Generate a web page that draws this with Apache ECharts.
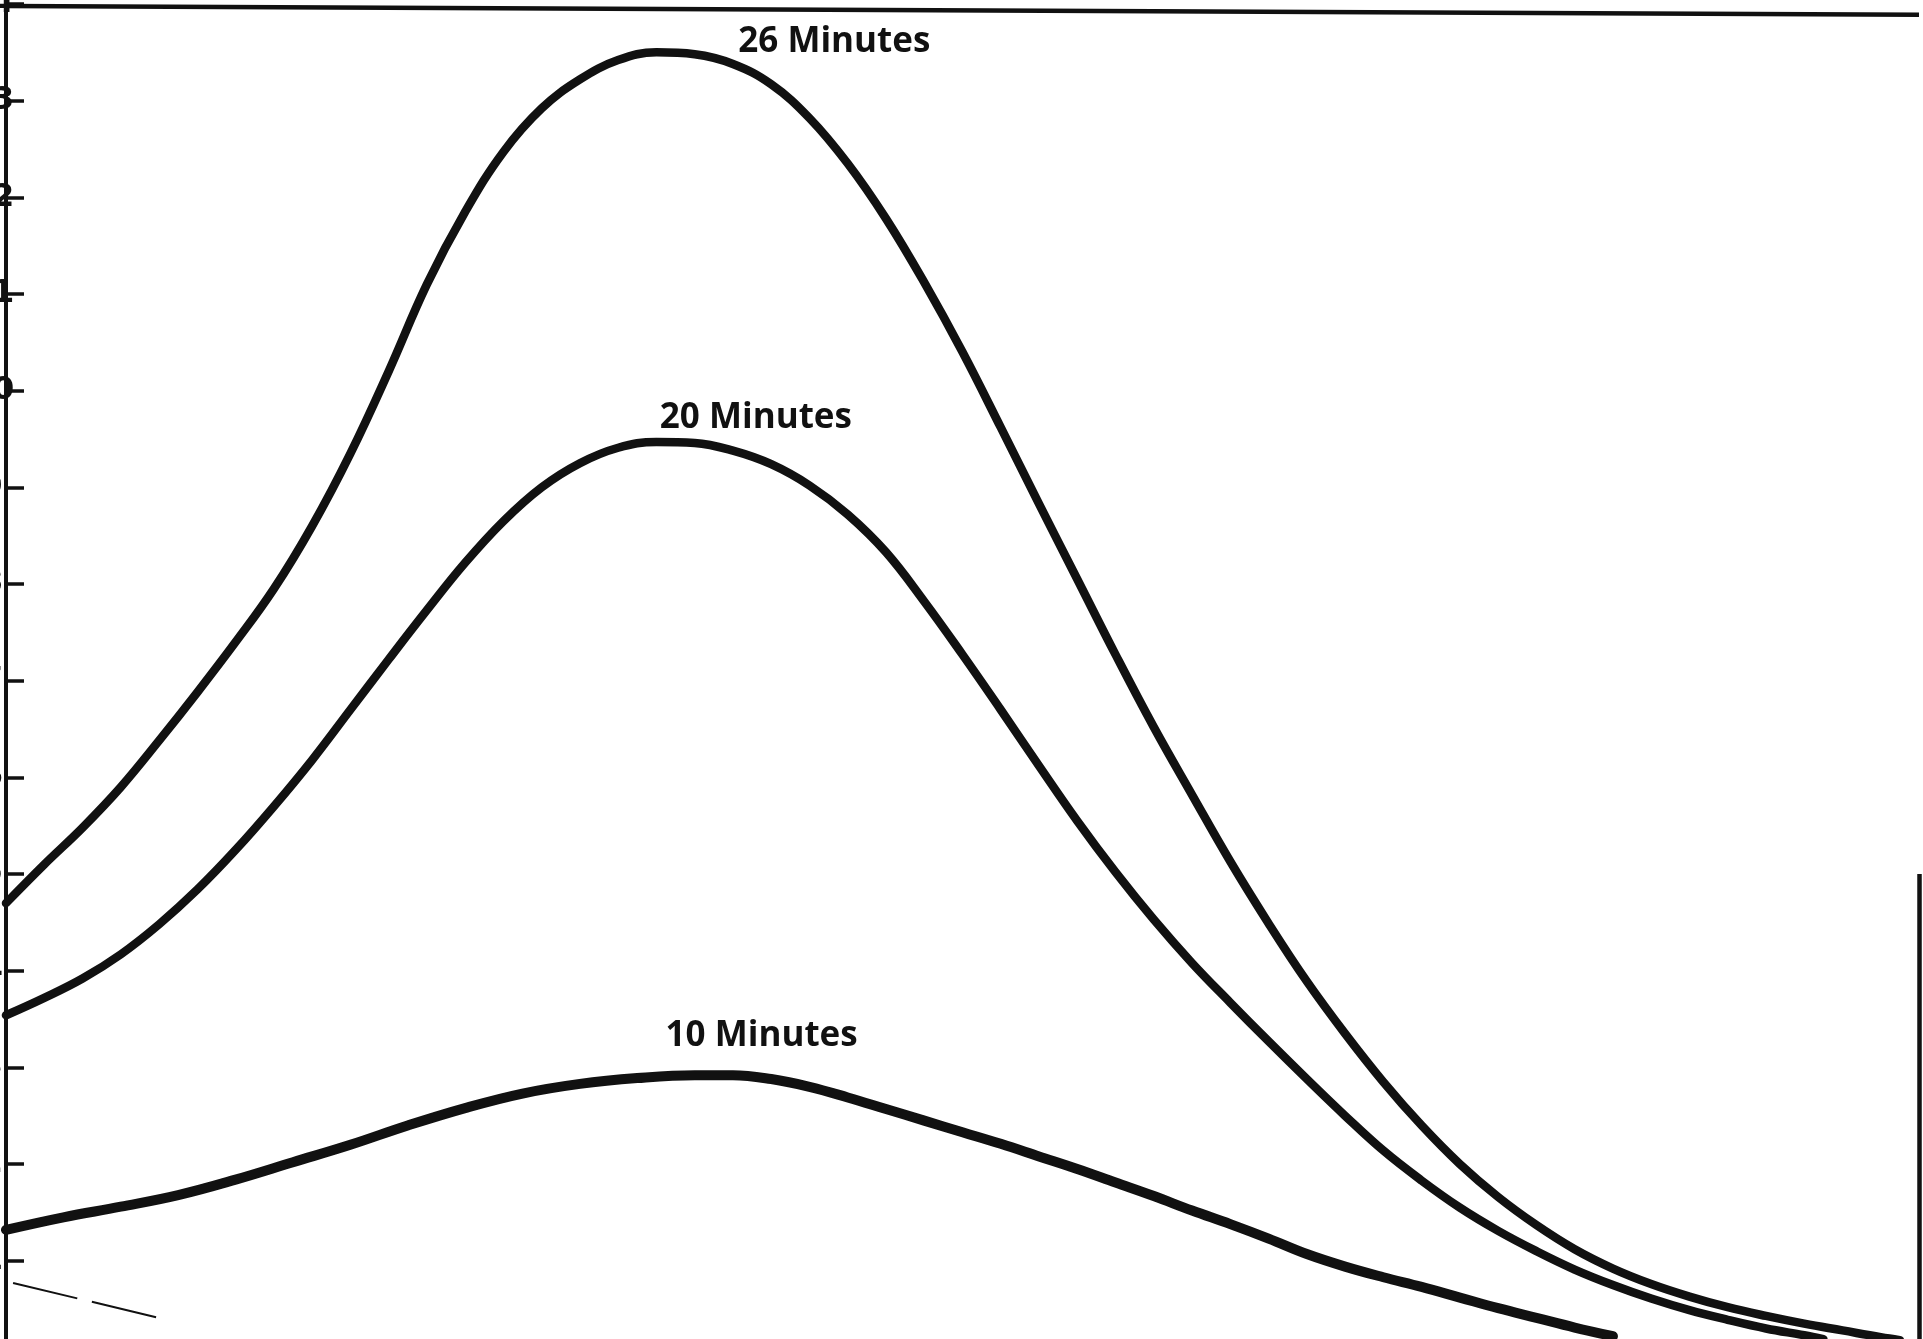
<!DOCTYPE html>
<html>
<head>
<meta charset="utf-8">
<title>Minutes curves</title>
<script src="https://cdn.jsdelivr.net/npm/echarts@6/dist/echarts.min.js"></script>
<style>
  html, body { margin: 0; padding: 0; background: #ffffff; }
  #chart { width: 1923px; height: 1339px; }
</style>
</head>
<body>
<div id="chart"></div>
<script>
// Curve samples: [position along the horizontal scale, value]
const curve26 = [
  [0, 4.70], [2, 5.10], [4, 5.48], [6, 5.90], [8, 6.38], [10, 6.88], [12, 7.40],
  [14, 7.95], [16, 8.60], [18, 9.35], [20, 10.20], [22, 11.10], [24, 11.85],
  [26, 12.47], [28, 12.92], [30, 13.22], [32, 13.42], [34, 13.50], [36, 13.48],
  [38, 13.38], [40, 13.17], [42, 12.82], [44, 12.35], [46, 11.78], [48, 11.12],
  [50, 10.40], [52, 9.62], [54, 8.83], [56, 8.05], [58, 7.27], [60, 6.52],
  [62, 5.82], [64, 5.13], [66, 4.49], [68, 3.89], [70, 3.35], [72, 2.85],
  [74, 2.40], [76, 2.00], [78, 1.66], [80, 1.37], [82, 1.12], [84, 0.92],
  [86, 0.76], [88, 0.63], [90, 0.52], [92, 0.43], [94, 0.35], [96, 0.28],
  [98, 0.21], [99, 0.18]
];
const curve20 = [
  [0, 3.54], [2, 3.72], [4, 3.92], [6, 4.17], [8, 4.48], [10, 4.84], [12, 5.25],
  [14, 5.70], [16, 6.18], [18, 6.70], [20, 7.22], [22, 7.73], [24, 8.22],
  [26, 8.65], [28, 9.00], [30, 9.25], [32, 9.41], [34, 9.47], [36, 9.46],
  [38, 9.38], [40, 9.24], [42, 9.02], [44, 8.72], [46, 8.33], [48, 7.82],
  [50, 7.27], [52, 6.70], [54, 6.12], [56, 5.55], [58, 5.02], [60, 4.53],
  [62, 4.08], [64, 3.67], [66, 3.27], [68, 2.88], [70, 2.50], [72, 2.14],
  [74, 1.83], [76, 1.55], [78, 1.31], [80, 1.10], [82, 0.91], [84, 0.75],
  [86, 0.61], [88, 0.49], [90, 0.39], [92, 0.30], [94, 0.23], [95, 0.19]
];
const curve10 = [
  [0, 1.32], [3, 1.45], [6, 1.56], [9, 1.68], [12, 1.84], [15, 2.02], [18, 2.20],
  [21, 2.40], [24, 2.58], [27, 2.73], [30, 2.83], [33, 2.89], [36, 2.92],
  [38, 2.92], [40, 2.88], [42, 2.80], [44, 2.69], [46, 2.57], [48, 2.45],
  [50, 2.33], [52, 2.21], [54, 2.08], [56, 1.95], [58, 1.81], [60, 1.67],
  [62, 1.52], [64, 1.38], [66, 1.23], [68, 1.07], [70, 0.94], [72, 0.83],
  [74, 0.73], [76, 0.62], [78, 0.51], [80, 0.41], [82, 0.31], [84, 0.22]
];
// faint trace near the baseline
const baseTrace = [[0.37, 0.77], [8.0, 0.41]];

const seriesNames = ['26 Minutes', '20 Minutes', '10 Minutes'];
const yTicks = [0, 14, 1];   // min, max, step
const xRange = [0, 100];
// frame edges: top rule (slightly skewed) and short right rule
const topRule = [[0, 13.98], [100, 13.89]];
const rightRule = [[100, 0], [100, 5]];

const ink = '#111111';
const labelFont = { fontFamily: 'Open Sans', fontWeight: 'bold', fontSize: 35, color: ink };

function curveSeries(name, data, width, labelAt) {
  return {
    name: name,
    type: 'line',
    data: data,
    smooth: 0.4,
    symbol: 'none',
    clip: true,
    lineStyle: { color: ink, width: width, cap: 'round', join: 'round' },
    markPoint: {
      symbol: 'circle',
      symbolSize: 0,
      silent: true,
      data: [{ coord: labelAt }],
      label: Object.assign({ show: true, position: 'inside', formatter: name }, labelFont)
    },
    z: 3
  };
}

const chart = echarts.init(document.getElementById('chart'), null, { renderer: 'canvas' });

chart.setOption({
  animation: false,
  backgroundColor: '#ffffff',
  grid: {
    left: 6, right: 4, top: 4, bottom: -18.5,
    containLabel: false,
    outerBoundsMode: 'none'
  },
  xAxis: {
    type: 'value', min: xRange[0], max: xRange[1],
    axisLine: { show: false }, axisTick: { show: false },
    axisLabel: { show: false }, splitLine: { show: false }
  },
  yAxis: {
    type: 'value',
    min: yTicks[0], max: yTicks[1], interval: yTicks[2],
    axisLine: { show: true, onZero: false, lineStyle: { color: ink, width: 4 } },
    axisTick: { show: true, inside: true, length: 18, lineStyle: { color: ink, width: 3.5 } },
    axisLabel: {
      show: true, inside: false, margin: 14, align: 'center',
      fontFamily: 'DejaVu Sans', fontWeight: 'bold', fontSize: 32, color: ink
    },
    splitLine: { show: false }
  },
  series: [
    curveSeries(seriesNames[0], curve26, 8.5, [43.3, 13.61]),
    curveSeries(seriesNames[1], curve20, 8.5, [39.2, 9.72]),
    curveSeries(seriesNames[2], curve10, 10, [39.5, 3.32]),
    {
      name: 'trace',
      type: 'line',
      data: baseTrace,
      symbol: 'none',
      lineStyle: { color: ink, width: 2, type: [66, 15] },
      markLine: {
        silent: true,
        symbol: 'none',
        label: { show: false },
        lineStyle: { color: ink, width: 4.5, type: 'solid' },
        data: [
          [{ coord: topRule[0] }, { coord: topRule[1] }],
          [{ coord: rightRule[0] }, { coord: rightRule[1] }]
        ]
      },
      z: 2
    }
  ]
});
</script>
</body>
</html>
